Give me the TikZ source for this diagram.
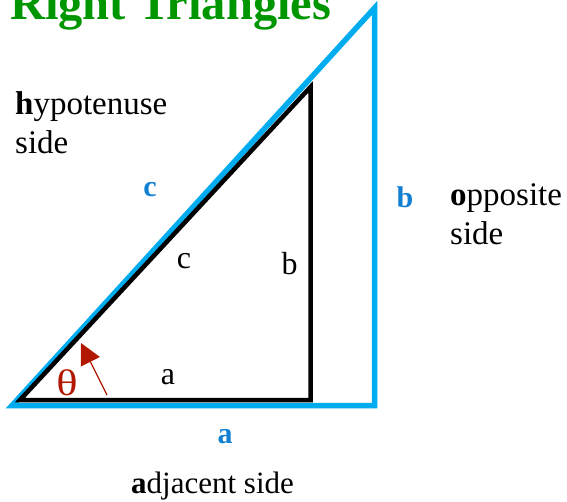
\documentclass[tikz,border=0pt]{standalone}
\usepackage{fontspec}
\setmainfont{Liberation Serif}
\usetikzlibrary{arrows.meta}
\definecolor{lineblue}{RGB}{0,172,240}
\definecolor{labblue}{RGB}{18,128,210}
\definecolor{titlegreen}{RGB}{0,150,0}
\definecolor{thetared}{RGB}{178,24,0}
\tikzset{
  txt/.style={inner sep=0pt, anchor=base west, font=\fontsize{33}{39}\selectfont, align=left},
  lab/.style={inner sep=0pt, anchor=base, font=\fontsize{32}{39}\selectfont},
  blab/.style={inner sep=0pt, anchor=base, text=labblue, font=\fontsize{30}{32}\selectfont\bfseries},
  bluetri/.style={draw=lineblue, line width=5.5pt, line join=miter},
  blacktri/.style={draw=black, line width=4.5pt, line join=miter},
}
\begin{document}
\begin{tikzpicture}[x=1pt,y=-1pt]
\useasboundingbox (0,0) rectangle (567,502);
% vertices
\coordinate (B1) at (12,405.5);
\coordinate (B2) at (374.5,405.5);
\coordinate (B3) at (374.5,8);
\coordinate (K1) at (20,400);
\coordinate (K2) at (310.5,400);
\coordinate (K3) at (310.5,87);
\draw[bluetri] (B1) -- (B2) -- (B3) -- cycle;
\draw[blacktri] (K1) -- (K2) -- (K3) -- cycle;
% title
\node[inner sep=0pt, anchor=base west, text=titlegreen, font=\fontsize{48.5}{52}\selectfont\bfseries] (title) at (10,20) {Right Triangles};
% side descriptions (base = baseline of last line)
\node[txt] (hyp) at (15,154) {\textbf{h}ypotenuse\\side};
\node[txt] (opp) at (450,245) {\textbf{o}pposite\\side};
\node[txt, font=\fontsize{31}{39}\selectfont] (adj) at (131,493) {\textbf{a}djacent side};
% blue labels
\node[blab] (bc) at (150,197) {c};
\node[blab] (bb) at (405,208) {b};
\node[blab] (ba) at (225,443) {a};
% black labels
\node[lab] (kc) at (184,269) {c};
\node[lab] (kb) at (289.5,275) {b};
\node[lab] (ka) at (168,384) {a};
% theta
\node[lab, text=thetared, font=\fontsize{37}{40}\selectfont, xscale=1.2] (th) at (67,395) {θ};
\coordinate (ta) at (107,395);
\coordinate (tb) at (81,343);
\draw[thetared, line width=1.2pt, -{Triangle[length=21pt,width=21pt]}] (ta) -- (tb);
\end{tikzpicture}
\end{document}
